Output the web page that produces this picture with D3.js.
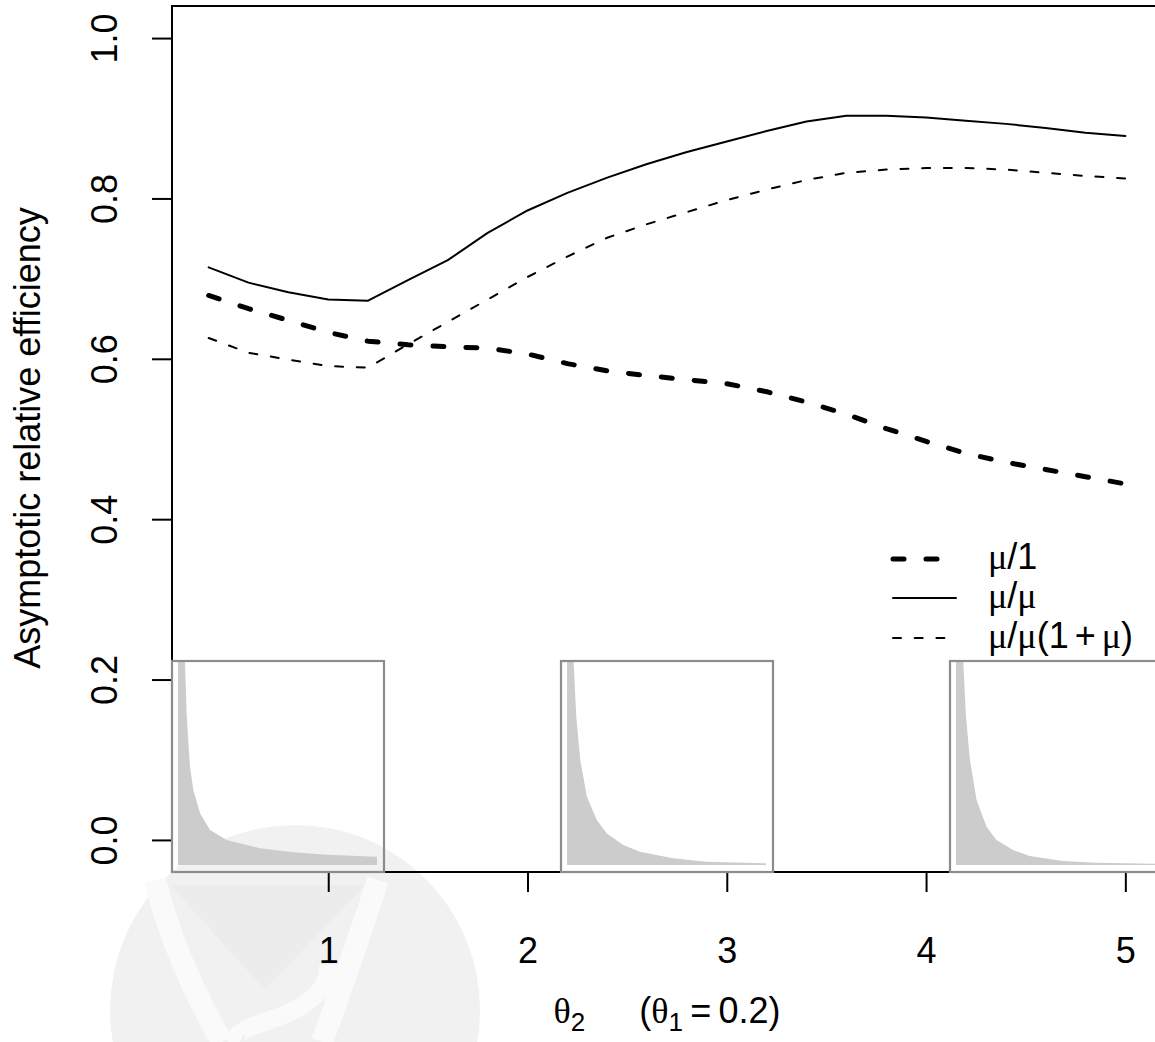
<!DOCTYPE html>
<html><head><meta charset="utf-8">
<script src="https://cdn.jsdelivr.net/npm/d3@7"></script>
<style>html,body{margin:0;padding:0;background:#fff;} svg{display:block;}</style>
</head><body><svg id="c" width="1155" height="1042"></svg>
<script>
// ---------- data ----------
const theta2 = [0.4,0.6,0.8,1.0,1.2,1.4,1.6,1.8,2.0,2.2,2.4,2.6,2.8,3.0,3.2,3.4,3.6,3.8,4.0,4.2,4.4,4.6,4.8,5.0];
const effMu1   = [0.679,0.6625,0.648,0.633,0.622,0.6175,0.615,0.6133,0.606,0.594,0.585,0.579,0.574,0.569,0.559,0.546,0.531,0.513,0.497,0.482,0.471,0.462,0.453,0.444];
const effMuMu  = [0.714,0.695,0.683,0.674,0.6725,0.698,0.723,0.757,0.785,0.807,0.826,0.843,0.858,0.871,0.884,0.896,0.903,0.903,0.901,0.897,0.893,0.888,0.882,0.878];
const effMuMu1 = [0.626,0.6075,0.599,0.591,0.589,0.618,0.646,0.674,0.702,0.7275,0.751,0.768,0.783,0.798,0.811,0.823,0.832,0.836,0.838,0.838,0.836,0.832,0.828,0.825];
const xTicks = [1,2,3,4,5];
const yTicks = [0.0,0.2,0.4,0.6,0.8,1.0];
// inset density shapes: [relative position, relative height]
const inset1 = [[0,1.4],[0.035,1.0],[0.044,0.729],[0.060,0.484],[0.077,0.368],[0.111,0.254],[0.161,0.172],[0.245,0.123],[0.412,0.082],[0.579,0.063],[0.747,0.050],[1.0,0.041]];
const inset2 = [[0,1.4],[0.033,1.0],[0.0465,0.729],[0.0665,0.515],[0.10,0.335],[0.15,0.221],[0.20,0.155],[0.283,0.098],[0.3665,0.065],[0.533,0.033],[0.70,0.016],[1.0,0.008]];
const inset3 = [[0,1.4],[0.0365,1.0],[0.05,0.729],[0.07,0.515],[0.1035,0.319],[0.1535,0.188],[0.2035,0.123],[0.2865,0.074],[0.37,0.044],[0.5365,0.020],[0.7035,0.011],[1.0,0.006]];
const insetAlign = ["left","center","right"];

// ---------- layout ----------
const svg = d3.select("#c");
const L = 172, R = 1162, T = 6, B = 872;
const FS = 36;
const SANS = "'Liberation Sans', Arial, Helvetica, sans-serif";
const SERIF = "'Liberation Serif', 'DejaVu Serif', serif";

const x = d3.scaleLinear().domain([0.216, 5.184]).range([L, R]);
const y = d3.scaleLinear().domain([-0.04, 1.04]).range([B, T]);

// watermark (faint)
const wm = svg.append("g");
wm.append("circle").attr("cx",295).attr("cy",1010).attr("r",185).attr("fill","#f1f1f1");
wm.append("path").attr("d","M170,885 L365,885 L265,990 Z").attr("fill","#ececec");
wm.append("path").attr("d","M155,880 Q175,960 222,1042 M378,880 Q352,960 322,1042").attr("stroke","#fafafa").attr("stroke-width",22).attr("fill","none");
wm.append("path").attr("d","M328,965 Q330,1000 270,1020 Q225,1035 240,1042").attr("stroke","#fafafa").attr("stroke-width",18).attr("fill","none");

// clip for plot region
svg.append("defs").append("clipPath").attr("id","plotclip")
  .append("rect").attr("x",L).attr("y",T).attr("width",R-L).attr("height",B-T);

// series
const line = d3.line().x((d,i)=>x(theta2[i])).y(d=>y(d));
const gLines = svg.append("g").attr("clip-path","url(#plotclip)");
const styles = [
  {data:effMu1,  w:5,   dash:"11,22"},
  {data:effMuMu, w:2,   dash:null},
  {data:effMuMu1,w:2,   dash:"8,13.7"}
];
styles.forEach(s=>{
  gLines.append("path").attr("d",line(s.data)).attr("fill","none")
    .attr("stroke","#000").attr("stroke-width",s.w)
    .attr("stroke-linecap","round").attr("stroke-linejoin","round")
    .attr("stroke-dasharray",s.dash);
});

// box
svg.append("rect").attr("x",L).attr("y",T).attr("width",R-L).attr("height",B-T)
  .attr("fill","none").attr("stroke","#000").attr("stroke-width",2);

// y axis
const yAx = svg.append("g").attr("transform",`translate(${L},0)`)
  .call(d3.axisLeft(y).tickValues(yTicks).tickSize(20).tickFormat(d3.format(".1f")));
yAx.select(".domain").remove();
yAx.selectAll(".tick line").attr("stroke","#000").attr("stroke-width",2);
yAx.selectAll(".tick text").attr("x",0).attr("dy",0)
  .attr("transform","translate(-55,0) rotate(-90)").attr("text-anchor","middle")
  .style("font-family",SANS).style("font-size",FS+"px").attr("fill","#000");

// x axis
const xAx = svg.append("g").attr("transform",`translate(0,${B})`)
  .call(d3.axisBottom(x).tickValues(xTicks).tickSize(20).tickFormat(d3.format("d")));
xAx.select(".domain").remove();
xAx.selectAll(".tick line").attr("stroke","#000").attr("stroke-width",2);
xAx.selectAll(".tick text").attr("y",91).attr("dy",0)
  .style("font-family",SANS).style("font-size",FS+"px").attr("fill","#000");

// y label
svg.append("text").attr("transform","translate(40,438) rotate(-90)")
  .attr("text-anchor","middle").style("font-family",SANS).style("font-size",FS+"px")
  .text("Asymptotic relative efficiency");

// x label
const xl = svg.append("text").attr("x",(L+R)/2).attr("y",1023).attr("text-anchor","middle")
  .style("font-family",SANS).style("font-size",FS+"px");
xl.append("tspan").style("font-family",SERIF).text("θ");
xl.append("tspan").attr("dy",8).style("font-size","26px").text("2");
xl.append("tspan").attr("dy",-8).text("\u2003\u2002(");
xl.append("tspan").style("font-family",SERIF).text("θ");
xl.append("tspan").attr("dy",8).style("font-size","26px").text("1");
xl.append("tspan").attr("dy",-8).text("\u2009=\u20090.2)");

// legend
const legRows = [
  {parts:[["μ",1],["/",0],["1",0]], s:styles[0]},
  {parts:[["μ",1],["/",0],["μ",1]], s:styles[1]},
  {parts:[["μ",1],["/",0],["μ",1],["(1\u2006+\u2006",0],["μ",1],[")",0]], s:styles[2]}
];
const legY = [559, 598, 638];
legRows.forEach((r,i)=>{
  svg.append("line").attr("x1",893).attr("x2",956).attr("y1",legY[i]).attr("y2",legY[i])
    .attr("stroke","#000").attr("stroke-width",r.s.w).attr("stroke-linecap","round")
    .attr("stroke-dasharray",r.s.dash);
  const t = svg.append("text").attr("x",988).attr("y",legY[i]+10)
    .style("font-family",SANS).style("font-size",FS+"px");
  r.parts.forEach(p=>{ t.append("tspan").style("font-family",p[1]?SERIF:SANS).text(p[0]); });
});

// insets
const IW = 212, IH = 211;
const sets = [inset1, inset2, inset3];
sets.forEach((pts,k)=>{
  let left;
  if (insetAlign[k]==="left") left = L;
  else if (insetAlign[k]==="center") left = (L+R)/2 - IW/2;
  else left = R - IW;
  const top = B - IH;
  const ix = d3.scaleLinear().domain([0,1]).range([left+6, left+205]);
  const iy = d3.scaleLinear().domain([0,1]).range([B-7, top]);
  const cid = "iclip"+k;
  svg.select("defs").append("clipPath").attr("id",cid)
    .append("rect").attr("x",left).attr("y",top).attr("width",IW).attr("height",IH);
  const area = d3.area().x(d=>ix(d[0])).y0(iy(0)).y1(d=>iy(d[1]));
  svg.append("path").attr("d",area(pts)).attr("fill","#cccccc").attr("clip-path",`url(#${cid})`);
  svg.append("rect").attr("x",left).attr("y",top).attr("width",IW).attr("height",IH)
    .attr("fill","none").attr("stroke","#8c8c8c").attr("stroke-width",2.2);
});
</script></body></html>
